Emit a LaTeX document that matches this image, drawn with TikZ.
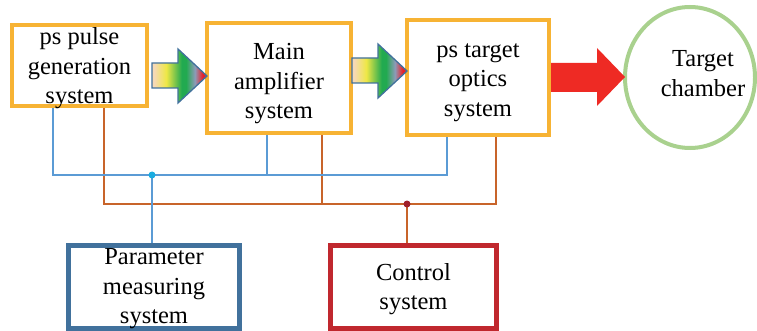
\documentclass[tikz,border=0pt]{standalone}
\usepackage{fontspec}
\setmainfont{Liberation Serif}
\usetikzlibrary{shapes.geometric}
\definecolor{boxorange}{HTML}{F7B334}
\definecolor{parblue}{HTML}{41719C}
\definecolor{ctrlred}{HTML}{C0282E}
\definecolor{chgreen}{HTML}{A9D18E}
\definecolor{busblue}{HTML}{5B9BD5}
\definecolor{busorange}{HTML}{C8642A}
\definecolor{dotblue}{HTML}{1AACE0}
\definecolor{dotred}{HTML}{A0202A}
\definecolor{laserred}{HTML}{EE2A24}
\definecolor{bpeach}{HTML}{F6D9B5}
\definecolor{byellow}{HTML}{EEE845}
\definecolor{bgreen}{HTML}{22AA50}
\definecolor{bgrey}{HTML}{8C9BB8}
\definecolor{bred}{HTML}{E8202A}
\pgfdeclarehorizontalshading{beam}{100bp}{color(0bp)=(bpeach); color(27bp)=(bpeach); color(38bp)=(byellow); color(52bp)=(bgreen); color(56bp)=(bgreen); color(64bp)=(bgrey); color(71bp)=(bred); color(100bp)=(bred)}
\begin{document}
\begin{tikzpicture}[x=1pt,y=-1pt,
    every node/.style={font=\fontsize{24.5}{29.5}\selectfont,align=center,inner sep=0pt},
    sysbox/.style={draw=boxorange,line width=4pt,fill=white},
    bline/.style={busblue,line width=2pt},
    oline/.style={busorange,line width=2pt},
    beamarrow/.style={shading=beam,draw=parblue,line width=1.3pt,line join=miter}]
        \useasboundingbox (0,0) rectangle (757,331);
        \node[sysbox,minimum width=135pt,minimum height=81pt](a)at(79.5,65.5){};
        \node at([yshift=-3pt]a){ps pulse\\generation\\system};
        \node[sysbox,minimum width=144pt,minimum height=110pt](b)at(279,78){};
        \node at([yshift=-6pt]b){Main\\amplifier\\system};
        \node[sysbox,minimum width=142pt,minimum height=115pt](c)at(478,77.5){};
        \node at([yshift=-5pt]c){ps target\\optics\\system};
        \node[ellipse,draw=chgreen,line width=4pt,fill=white,minimum width=130pt,minimum height=141pt](d)at(690,77.5){};
        \node at([xshift=13pt,yshift=4pt]d){Target\\chamber};
        \node[draw=parblue,line width=5pt,minimum width=171pt,minimum height=83pt](p)at(154,287){};
        \node at([yshift=-2pt]p){Parameter\\measuring\\system};
        \node[draw=ctrlred,line width=5pt,minimum width=166pt,minimum height=83pt](k)at(413.5,287){};
        \node at([yshift=-2pt]k){Control\\system};

        % beam arrows
        \shadedraw[beamarrow](152,63)--(178,63)--(178,49)--(207,76)--(178,103)--(178,88)--(152,88)--cycle;
        \shadedraw[beamarrow](352,58)--(378,58)--(378,44)--(407,71)--(378,98)--(378,83)--(352,83)--cycle;
        \fill[laserred](551,63)--(597,63)--(597,48)--(625,77)--(597,106)--(597,92)--(551,92)--cycle;

        % buses
        \coordinate(bd)at(152,175);
        \coordinate(od)at(407,204);
        \draw[oline]([xshift=24.5pt]a.south)|-(od)-|([xshift=18pt]c.south);
        \draw[oline]([xshift=43pt]b.south)--([xshift=43pt]b.south|-od);
        \draw[oline](od)--(od|-k.north);
        \draw[bline]([xshift=-26.5pt]a.south)|-(bd)-|([xshift=-31pt]c.south);
        \draw[bline]([xshift=-12pt]b.south)--([xshift=-12pt]b.south|-bd);
        \draw[bline](bd)--(bd|-p.north);
        \fill[dotblue](bd)circle(3.5pt);
        \fill[dotred](od)circle(3.5pt);
    \end{tikzpicture}
\end{document}
